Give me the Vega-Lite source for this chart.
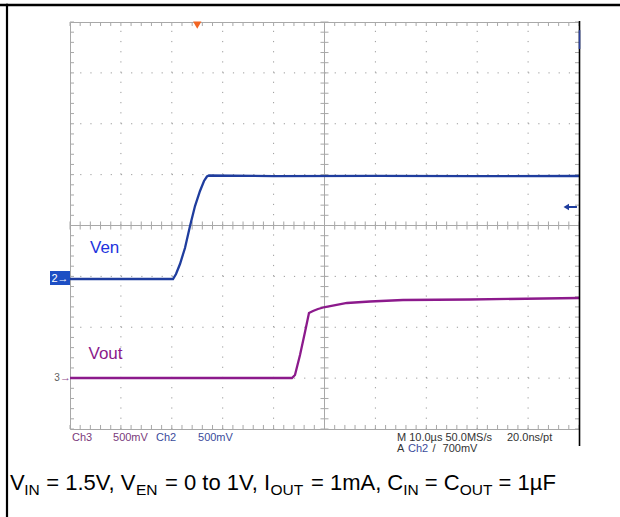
{
  "$schema": "https://vega.github.io/schema/vega-lite/v6.json",
  "width": 509,
  "height": 407,
  "autosize": {"type": "none"},
  "padding": {"left": 70, "top": 22, "right": 41, "bottom": 88},
  "background": "white",
  "config": {
    "axis": {"disable": true},
    "view": {"stroke": "#a8a8a8", "strokeWidth": 1},
    "text": {"font": "Liberation Sans"}
  },
  "datasets": {
    "xt": [{"v":0},{"v":2},{"v":4},{"v":6},{"v":8},{"v":10},{"v":12},{"v":14},{"v":16},{"v":18},{"v":20},{"v":22},{"v":24},{"v":26},{"v":28},{"v":30},{"v":32},{"v":34},{"v":36},{"v":38},{"v":40},{"v":42},{"v":44},{"v":46},{"v":48},{"v":50},{"v":52},{"v":54},{"v":56},{"v":58},{"v":60},{"v":62},{"v":64},{"v":66},{"v":68},{"v":70},{"v":72},{"v":74},{"v":76},{"v":78},{"v":80},{"v":82},{"v":84},{"v":86},{"v":88},{"v":90},{"v":92},{"v":94},{"v":96},{"v":98},{"v":100}],
    "yt": [{"v":0},{"v":0.2},{"v":0.4},{"v":0.6},{"v":0.8},{"v":1},{"v":1.2},{"v":1.4},{"v":1.6},{"v":1.8},{"v":2},{"v":2.2},{"v":2.4},{"v":2.6},{"v":2.8},{"v":3},{"v":3.2},{"v":3.4},{"v":3.6},{"v":3.8},{"v":4},{"v":4.2},{"v":4.4},{"v":4.6},{"v":4.8},{"v":5},{"v":5.2},{"v":5.4},{"v":5.6},{"v":5.8},{"v":6},{"v":6.2},{"v":6.4},{"v":6.6},{"v":6.8},{"v":7},{"v":7.2},{"v":7.4},{"v":7.6},{"v":7.8},{"v":8}],
    "gx": [{"v":10},{"v":20},{"v":30},{"v":40},{"v":60},{"v":70},{"v":80},{"v":90}],
    "gy": [{"v":1},{"v":2},{"v":3},{"v":5},{"v":6},{"v":7}],
    "ven": [
      {"t":0,"v":2.948},{"t":20.24,"v":2.948},{"t":20.83,"v":3.047},{"t":21.61,"v":3.243},{"t":22.59,"v":3.558},{"t":23.58,"v":3.99},{"t":24.56,"v":4.383},{"t":25.54,"v":4.678},{"t":26.33,"v":4.875},{"t":26.91,"v":4.963},{"t":27.31,"v":4.983},{"t":40,"v":4.97},{"t":60,"v":4.976},{"t":80,"v":4.97},{"t":100,"v":4.973}
    ],
    "vout": [
      {"t":0,"v":1.002},{"t":43.6,"v":1.002},{"t":44.2,"v":1.061},{"t":45.19,"v":1.455},{"t":46.17,"v":1.907},{"t":46.95,"v":2.28},{"t":47.74,"v":2.319},{"t":48.72,"v":2.359},{"t":50.1,"v":2.398},{"t":54.42,"v":2.477},{"t":58.94,"v":2.506},{"t":65.42,"v":2.536},{"t":78.59,"v":2.545},{"t":100,"v":2.575}
    ],
    "one": [{}]
  },
  "layer": [
    {
      "data": {"name": "gx"},
      "mark": {"type": "rule", "color": "#9a9a9a", "strokeWidth": 1, "strokeDash": [1.2, 8.98]},
      "encoding": {
        "x": {"field": "v", "type": "quantitative", "scale": {"domain": [0, 100], "nice": false, "zero": false}},
        "y": {"datum": 0, "type": "quantitative", "scale": {"domain": [0, 8], "nice": false, "zero": false}},
        "y2": {"datum": 8}
      }
    },
    {
      "data": {"name": "gy"},
      "mark": {"type": "rule", "color": "#9a9a9a", "strokeWidth": 1, "strokeDash": [1.2, 8.98]},
      "encoding": {
        "y": {"field": "v", "type": "quantitative"},
        "x": {"datum": 0, "type": "quantitative"},
        "x2": {"datum": 100}
      }
    },
    {
      "data": {"name": "one"},
      "mark": {"type": "rule", "color": "#a8a8a8", "strokeWidth": 1},
      "encoding": {"x": {"datum": 50, "type": "quantitative"}, "y": {"datum": 0, "type": "quantitative"}, "y2": {"datum": 8}}
    },
    {
      "data": {"name": "one"},
      "mark": {"type": "rule", "color": "#a8a8a8", "strokeWidth": 1},
      "encoding": {"y": {"datum": 4, "type": "quantitative"}, "x": {"datum": 0, "type": "quantitative"}, "x2": {"datum": 100}}
    },
    {
      "data": {"name": "xt"},
      "mark": {"type": "rule", "color": "#a8a8a8", "strokeWidth": 1},
      "encoding": {"x": {"field": "v", "type": "quantitative"}, "y": {"datum": 8, "type": "quantitative"}, "y2": {"datum": 7.921}}
    },
    {
      "data": {"name": "xt"},
      "mark": {"type": "rule", "color": "#a8a8a8", "strokeWidth": 1},
      "encoding": {"x": {"field": "v", "type": "quantitative"}, "y": {"datum": 0, "type": "quantitative"}, "y2": {"datum": 0.079}}
    },
    {
      "data": {"name": "xt"},
      "mark": {"type": "rule", "color": "#a8a8a8", "strokeWidth": 1},
      "encoding": {"x": {"field": "v", "type": "quantitative"}, "y": {"datum": 3.921, "type": "quantitative"}, "y2": {"datum": 4.079}}
    },
    {
      "data": {"name": "yt"},
      "mark": {"type": "rule", "color": "#a8a8a8", "strokeWidth": 1},
      "encoding": {"y": {"field": "v", "type": "quantitative"}, "x": {"datum": 0, "type": "quantitative"}, "x2": {"datum": 0.786}}
    },
    {
      "data": {"name": "yt"},
      "mark": {"type": "rule", "color": "#a8a8a8", "strokeWidth": 1},
      "encoding": {"y": {"field": "v", "type": "quantitative"}, "x": {"datum": 100, "type": "quantitative"}, "x2": {"datum": 99.214}}
    },
    {
      "data": {"name": "yt"},
      "mark": {"type": "rule", "color": "#a8a8a8", "strokeWidth": 1},
      "encoding": {"y": {"field": "v", "type": "quantitative"}, "x": {"datum": 49.214, "type": "quantitative"}, "x2": {"datum": 50.786}}
    },
    {
      "data": {"name": "ven"},
      "mark": {"type": "line", "color": "#1f3d9e", "strokeWidth": 2.3},
      "encoding": {"x": {"field": "t", "type": "quantitative"}, "y": {"field": "v", "type": "quantitative"}}
    },
    {
      "data": {"name": "vout"},
      "mark": {"type": "line", "color": "#8c1a8c", "strokeWidth": 2.3},
      "encoding": {"x": {"field": "t", "type": "quantitative"}, "y": {"field": "v", "type": "quantitative"}}
    },
    {
      "data": {"name": "one"},
      "mark": {"type": "rule", "color": "black", "strokeWidth": 2.4},
      "encoding": {"y": {"datum": 8.334, "type": "quantitative"}, "x": {"datum": -14, "type": "quantitative"}, "x2": {"datum": 110}}
    },
    {
      "data": {"name": "one"},
      "mark": {"type": "rule", "color": "black", "strokeWidth": 2.2},
      "encoding": {"x": {"datum": -12.377, "type": "quantitative"}, "y": {"datum": 8.36, "type": "quantitative"}, "y2": {"datum": -2}}
    },
    {
      "data": {"name": "one"},
      "mark": {"type": "rule", "color": "black", "strokeWidth": 1.6},
      "encoding": {"x": {"datum": 100.1, "type": "quantitative"}, "y": {"datum": 8.02, "type": "quantitative"}, "y2": {"datum": -0.334}}
    },
    {
      "data": {"name": "one"},
      "mark": {"type": "rule", "color": "#2a3f9a", "strokeWidth": 1.6},
      "encoding": {"x": {"datum": 100.1, "type": "quantitative"}, "y": {"datum": 7.84, "type": "quantitative"}, "y2": {"datum": 7.47}}
    },
    {
      "data": {"name": "one"},
      "mark": {"type": "point", "shape": "triangle-down", "filled": true, "color": "#f26522", "size": 70, "opacity": 1},
      "encoding": {"x": {"datum": 25, "type": "quantitative"}, "y": {"datum": 7.94, "type": "quantitative"}}
    },
    {
      "data": {"name": "one"},
      "mark": {"type": "rule", "color": "#1f3d9e", "strokeWidth": 2},
      "encoding": {"x": {"datum": 97.6, "type": "quantitative"}, "x2": {"datum": 99.6}, "y": {"datum": 4.364, "type": "quantitative"}}
    },
    {
      "data": {"name": "one"},
      "mark": {"type": "point", "shape": "triangle-left", "filled": true, "color": "#1f3d9e", "size": 40, "opacity": 1},
      "encoding": {"x": {"datum": 97.5, "type": "quantitative"}, "y": {"datum": 4.364, "type": "quantitative"}}
    },
    {
      "data": {"name": "one"},
      "mark": {"type": "rect", "color": "#1d4fc4"},
      "encoding": {"x": {"datum": -3.93, "type": "quantitative"}, "x2": {"datum": 0}, "y": {"datum": 3.106, "type": "quantitative"}, "y2": {"datum": 2.83}}
    },
    {
      "data": {"name": "one"},
      "mark": {"type": "text", "color": "white", "fontSize": 11, "align": "center", "baseline": "middle"},
      "encoding": {"x": {"datum": -1.96, "type": "quantitative"}, "y": {"datum": 2.948, "type": "quantitative"}, "text": {"value": "2→"}}
    },
    {
      "data": {"name": "one"},
      "mark": {"type": "text", "color": "#606060", "fontSize": 10, "align": "center", "baseline": "middle"},
      "encoding": {"x": {"datum": -2.55, "type": "quantitative"}, "y": {"datum": 1.002, "type": "quantitative"}, "text": {"value": "3"}}
    },
    {
      "data": {"name": "one"},
      "mark": {"type": "text", "color": "#8c4a8c", "fontSize": 11, "align": "center", "baseline": "middle"},
      "encoding": {"x": {"datum": -0.9, "type": "quantitative"}, "y": {"datum": 1.002, "type": "quantitative"}, "text": {"value": "→"}}
    },
    {
      "data": {"name": "one"},
      "mark": {"type": "text", "color": "#2233dd", "fontSize": 17, "align": "left", "baseline": "alphabetic"},
      "encoding": {"x": {"datum": 3.93, "type": "quantitative"}, "y": {"datum": 3.459, "type": "quantitative"}, "text": {"value": "Ven"}}
    },
    {
      "data": {"name": "one"},
      "mark": {"type": "text", "color": "#8b1a8b", "fontSize": 17, "align": "left", "baseline": "alphabetic"},
      "encoding": {"x": {"datum": 3.63, "type": "quantitative"}, "y": {"datum": 1.376, "type": "quantitative"}, "text": {"value": "Vout"}}
    },
    {
      "data": {"name": "one"},
      "mark": {"type": "text", "color": "#7b3b7b", "fontSize": 11, "align": "left", "baseline": "middle"},
      "encoding": {"x": {"datum": 0.39, "type": "quantitative"}, "y": {"datum": -0.177, "type": "quantitative"}, "text": {"value": "Ch3"}}
    },
    {
      "data": {"name": "one"},
      "mark": {"type": "text", "color": "#7b3b7b", "fontSize": 11, "align": "left", "baseline": "middle"},
      "encoding": {"x": {"datum": 8.45, "type": "quantitative"}, "y": {"datum": -0.177, "type": "quantitative"}, "text": {"value": "500mV"}}
    },
    {
      "data": {"name": "one"},
      "mark": {"type": "text", "color": "#3b4b9b", "fontSize": 11, "align": "left", "baseline": "middle"},
      "encoding": {"x": {"datum": 16.9, "type": "quantitative"}, "y": {"datum": -0.177, "type": "quantitative"}, "text": {"value": "Ch2"}}
    },
    {
      "data": {"name": "one"},
      "mark": {"type": "text", "color": "#3b4b9b", "fontSize": 11, "align": "left", "baseline": "middle"},
      "encoding": {"x": {"datum": 25.15, "type": "quantitative"}, "y": {"datum": -0.177, "type": "quantitative"}, "text": {"value": "500mV"}}
    },
    {
      "data": {"name": "one"},
      "mark": {"type": "text", "color": "#333333", "fontSize": 11, "align": "left", "baseline": "middle"},
      "encoding": {"x": {"datum": 64.24, "type": "quantitative"}, "y": {"datum": -0.177, "type": "quantitative"}, "text": {"value": "M 10.0µs 50.0MS/s"}}
    },
    {
      "data": {"name": "one"},
      "mark": {"type": "text", "color": "#333333", "fontSize": 11, "align": "left", "baseline": "middle"},
      "encoding": {"x": {"datum": 85.85, "type": "quantitative"}, "y": {"datum": -0.177, "type": "quantitative"}, "text": {"value": "20.0ns/pt"}}
    },
    {
      "data": {"name": "one"},
      "mark": {"type": "text", "color": "#333333", "fontSize": 11, "align": "left", "baseline": "middle"},
      "encoding": {"x": {"datum": 64.24, "type": "quantitative"}, "y": {"datum": -0.4, "type": "quantitative"}, "text": {"value": "A"}}
    },
    {
      "data": {"name": "one"},
      "mark": {"type": "text", "color": "#3b4b9b", "fontSize": 11, "align": "left", "baseline": "middle"},
      "encoding": {"x": {"datum": 66.4, "type": "quantitative"}, "y": {"datum": -0.4, "type": "quantitative"}, "text": {"value": "Ch2"}}
    },
    {
      "data": {"name": "one"},
      "mark": {"type": "text", "color": "#333333", "fontSize": 11, "align": "left", "baseline": "middle"},
      "encoding": {"x": {"datum": 71.2, "type": "quantitative"}, "y": {"datum": -0.4, "type": "quantitative"}, "text": {"value": "/"}}
    },
    {
      "data": {"name": "one"},
      "mark": {"type": "text", "color": "#333333", "fontSize": 11, "align": "left", "baseline": "middle"},
      "encoding": {"x": {"datum": 73.2, "type": "quantitative"}, "y": {"datum": -0.4, "type": "quantitative"}, "text": {"value": "700mV"}}
    },
    {
      "data": {"name": "one"},
      "mark": {"type": "text", "color": "black", "fontSize": 22, "align": "left", "baseline": "alphabetic"},
      "encoding": {"x": {"datum": -11.788, "type": "quantitative"}, "y": {"datum": -1.198, "type": "quantitative"}, "text": {"value": "V"}}
    },
    {
      "data": {"name": "one"},
      "mark": {"type": "text", "color": "black", "fontSize": 15.5, "align": "left", "baseline": "alphabetic"},
      "encoding": {"x": {"datum": -9.0, "type": "quantitative"}, "y": {"datum": -1.297, "type": "quantitative"}, "text": {"value": "IN"}}
    },
    {
      "data": {"name": "one"},
      "mark": {"type": "text", "color": "black", "fontSize": 22, "align": "left", "baseline": "alphabetic"},
      "encoding": {"x": {"datum": -4.658, "type": "quantitative"}, "y": {"datum": -1.198, "type": "quantitative"}, "text": {"value": "= 1.5V, V"}}
    },
    {
      "data": {"name": "one"},
      "mark": {"type": "text", "color": "black", "fontSize": 15.5, "align": "left", "baseline": "alphabetic"},
      "encoding": {"x": {"datum": 12.95, "type": "quantitative"}, "y": {"datum": -1.297, "type": "quantitative"}, "text": {"value": "EN"}}
    },
    {
      "data": {"name": "one"},
      "mark": {"type": "text", "color": "black", "fontSize": 22, "align": "left", "baseline": "alphabetic"},
      "encoding": {"x": {"datum": 18.676, "type": "quantitative"}, "y": {"datum": -1.198, "type": "quantitative"}, "text": {"value": "= 0 to 1V, I"}}
    },
    {
      "data": {"name": "one"},
      "mark": {"type": "text", "color": "black", "fontSize": 15.5, "align": "left", "baseline": "alphabetic"},
      "encoding": {"x": {"datum": 39.4, "type": "quantitative"}, "y": {"datum": -1.297, "type": "quantitative"}, "text": {"value": "OUT"}}
    },
    {
      "data": {"name": "one"},
      "mark": {"type": "text", "color": "black", "fontSize": 22, "align": "left", "baseline": "alphabetic"},
      "encoding": {"x": {"datum": 47.334, "type": "quantitative"}, "y": {"datum": -1.198, "type": "quantitative"}, "text": {"value": "= 1mA, C"}}
    },
    {
      "data": {"name": "one"},
      "mark": {"type": "text", "color": "black", "fontSize": 15.5, "align": "left", "baseline": "alphabetic"},
      "encoding": {"x": {"datum": 65.469, "type": "quantitative"}, "y": {"datum": -1.297, "type": "quantitative"}, "text": {"value": "IN"}}
    },
    {
      "data": {"name": "one"},
      "mark": {"type": "text", "color": "black", "fontSize": 22, "align": "left", "baseline": "alphabetic"},
      "encoding": {"x": {"datum": 69.717, "type": "quantitative"}, "y": {"datum": -1.198, "type": "quantitative"}, "text": {"value": "= C"}}
    },
    {
      "data": {"name": "one"},
      "mark": {"type": "text", "color": "black", "fontSize": 15.5, "align": "left", "baseline": "alphabetic"},
      "encoding": {"x": {"datum": 76.562, "type": "quantitative"}, "y": {"datum": -1.297, "type": "quantitative"}, "text": {"value": "OUT"}}
    },
    {
      "data": {"name": "one"},
      "mark": {"type": "text", "color": "black", "fontSize": 22, "align": "left", "baseline": "alphabetic"},
      "encoding": {"x": {"datum": 84.193, "type": "quantitative"}, "y": {"datum": -1.198, "type": "quantitative"}, "text": {"value": "= 1µF"}}
    }
  ]
}
